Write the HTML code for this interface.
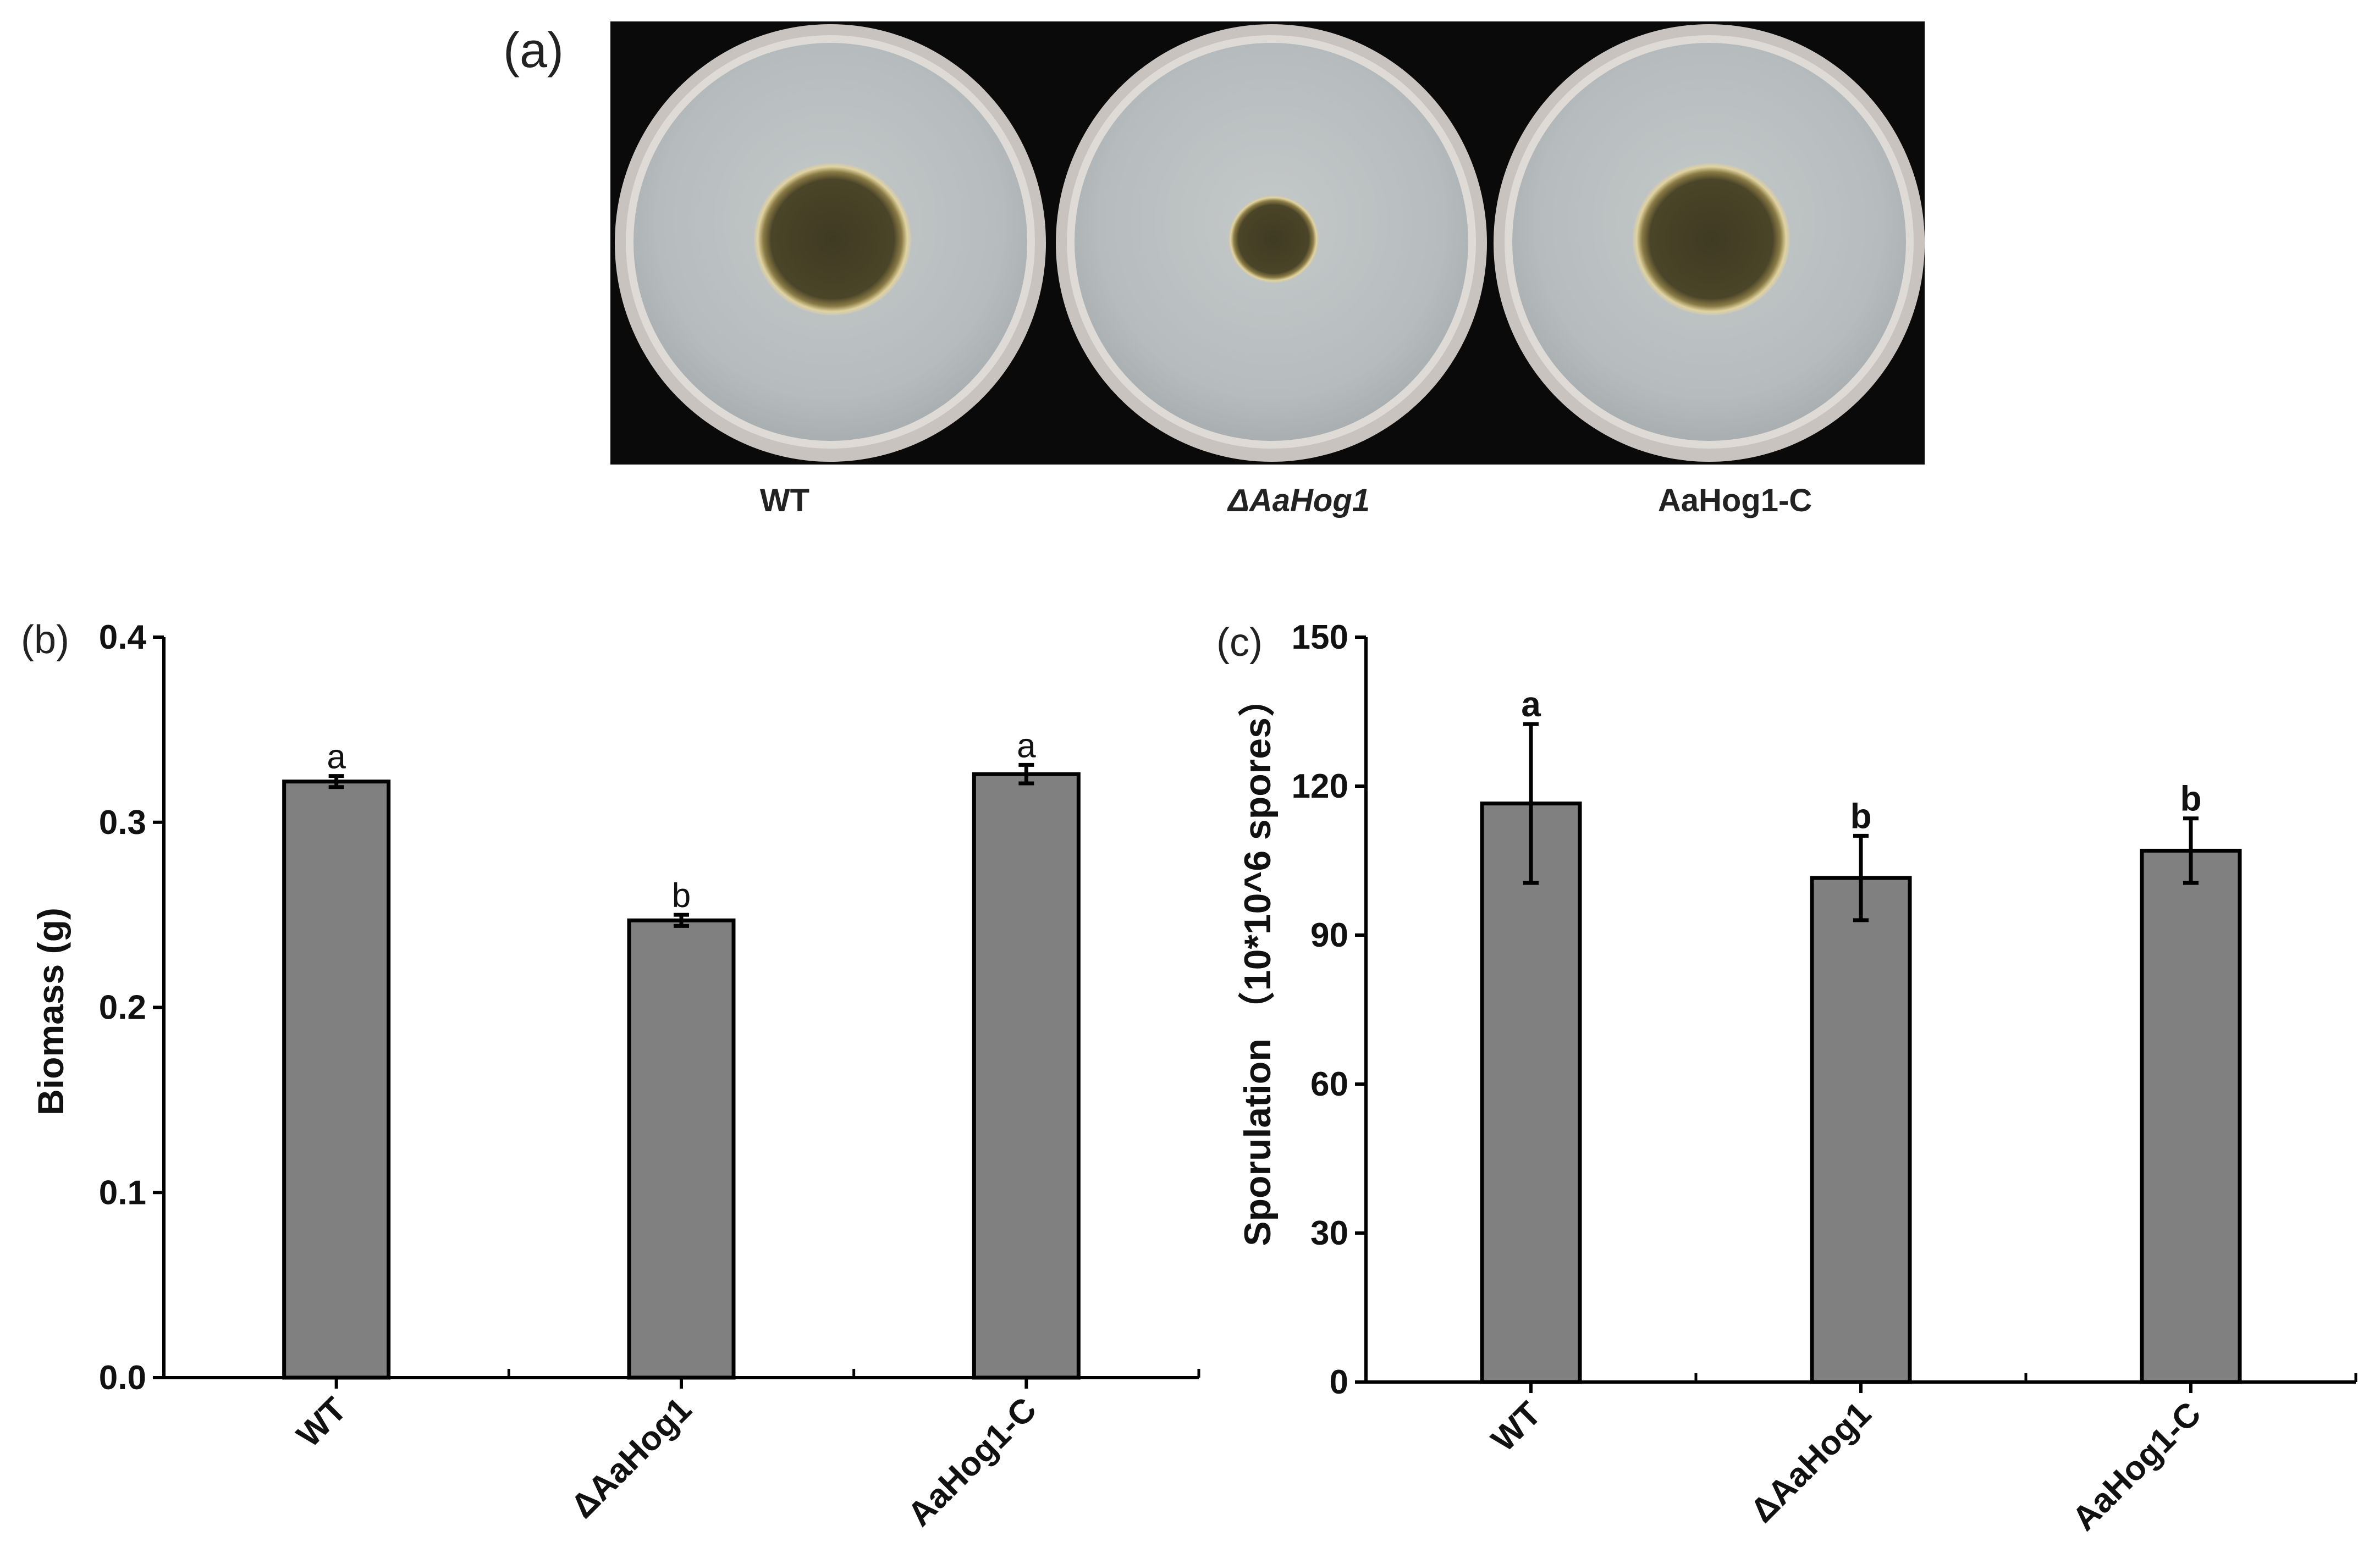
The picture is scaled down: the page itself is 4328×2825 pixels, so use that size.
<!DOCTYPE html>
<html><head><meta charset="utf-8">
<style>
html,body{margin:0;padding:0;background:#fff;}
svg{display:block;font-family:"Liberation Sans","Noto Sans CJK SC",sans-serif;}
</style></head>
<body>
<svg id="fig" width="4328" height="2825" viewBox="0 0 4328 2825" xmlns="http://www.w3.org/2000/svg">
<defs>
<radialGradient id="agar" cx="50%" cy="45%" r="55%">
<stop offset="0" stop-color="#c4c8c8"/><stop offset="0.8" stop-color="#b6bcbe"/><stop offset="1" stop-color="#a9afb1"/>
</radialGradient>
<radialGradient id="col" cx="50%" cy="50%" r="50%">
<stop offset="0" stop-color="#3f3a22"/><stop offset="0.78" stop-color="#4a4428"/><stop offset="0.88" stop-color="#8a7a45"/><stop offset="0.95" stop-color="#e0d3a0"/><stop offset="1" stop-color="#c8c6bb"/>
</radialGradient>
</defs>
<g>
<text x="915" y="122" font-size="90" fill="#222">(a)</text>
<rect x="1110" y="39" width="2390" height="806" fill="#0a0a0a"/>
<g id="plates"></g>
<text x="1427" y="930" font-size="58" font-weight="bold" text-anchor="middle" fill="#222">WT</text>
<text x="2362" y="930" font-size="58" font-weight="bold" font-style="italic" text-anchor="middle" fill="#222">ΔAaHog1</text>
<text x="3155" y="930" font-size="58" font-weight="bold" text-anchor="middle" fill="#222">AaHog1-C</text>
</g>
<g id="chartB"></g>
<g id="chartC"></g>
</svg>
<script>
const NS="http://www.w3.org/2000/svg";
const plateCenters=[1510,2312,3108];
const colonyRadii=[143,82,143];
function mk(tag,attrs,parent){const e=document.createElementNS(NS,tag);for(const k in attrs)e.setAttribute(k,attrs[k]);parent.appendChild(e);return e;}
const pg=document.getElementById('plates');
plateCenters.forEach((cx,i)=>{
  const g=mk('g',{},pg);
  
  
  mk('ellipse',{cx:cx,cy:442,rx:392,ry:398,fill:'#c9c3c0'},g);
  mk('ellipse',{cx:cx,cy:440,rx:372,ry:376,fill:'#dedad5'},g);
  mk('ellipse',{cx:cx,cy:440,rx:358,ry:362,fill:'url(#agar)'},g);
  mk('ellipse',{cx:cx+4,cy:435,rx:colonyRadii[i],ry:colonyRadii[i]*0.97,fill:'url(#col)'},g);
});

// Chart B data
const catsB=["WT","ΔAaHog1","AaHog1-C"];
const valsB=[0.322,0.247,0.326];
const errsB=[0.003,0.003,0.005];
const lettersB=["a","b","a"];
const ticksB=[0,0.1,0.2,0.3,0.4];
const tickLabelsB=["0.0","0.1","0.2","0.3","0.4"];
// Chart C data
const catsC=["WT","ΔAaHog1","AaHog1-C"];
const valsC=[116.5,101.5,107];
const errsC=[16,8.5,6.5];
const lettersC=["a","b","b"];
const ticksC=[0,30,60,90,120,150];
const tickLabelsC=["0","30","60","90","120","150"];

function drawChart(root,cfg){
  const {x0,x1,y0,y1,max,cats,vals,errs,letters,ticks,tickLabels,barW,letterBold,letterSize}=cfg;
  const ys=v=>y0-(v/max)*(y0-y1);
  const step=(x1-x0)/cats.length;
  const xs=i=>x0+step*(i+0.5);
  vals.forEach((v,i)=>{
    const b=mk('rect',{x:xs(i)-barW/2,y:ys(v),width:barW,height:y0-ys(v),fill:'#808080',stroke:'#000','stroke-width':7},root);
    
    
    const e=mk('path',{d:`M${xs(i)} ${ys(v+errs[i])}V${ys(v-errs[i])}M${xs(i)-14} ${ys(v+errs[i])}h28M${xs(i)-14} ${ys(v-errs[i])}h28`,stroke:'#000','stroke-width':7,fill:'none'},root);
    
    
    const t=mk('text',{x:xs(i),y:ys(v+errs[i])-14,'font-size':letterSize,'text-anchor':'middle','font-weight':letterBold?'bold':'normal',fill:'#111'},root);
    t.textContent=letters[i];
    
    
    const tk=mk('line',{x1:xs(i),x2:xs(i),y1:y0,y2:y0+20,stroke:'#000','stroke-width':6},root);
    
    
    const lb=mk('text',{transform:`translate(${xs(i)+22},${y0+62}) rotate(-45)`,'font-size':62,'font-weight':'bold','text-anchor':'end',fill:'#111'},root);
    lb.textContent=cats[i];
    
    
  });
  for(let i=1;i<=cats.length;i++){
    const m=mk('line',{x1:x0+step*i,x2:x0+step*i,y1:y0,y2:y0-16,stroke:'#000','stroke-width':5},root);
    
    
  }
  ticks.forEach((t,i)=>{
    const l=mk('line',{x1:x0,x2:x0-20,y1:ys(t),y2:ys(t),stroke:'#000','stroke-width':6},root);
    
    
    const tx=mk('text',{x:x0-32,y:ys(t)+21,'font-size':62,'font-weight':'bold','text-anchor':'end',fill:'#111'},root);
    tx.textContent=tickLabels[i];
    
    
  });
  const ax=mk('path',{d:`M${x0} ${y1}V${y0}H${x1}`,stroke:'#000','stroke-width':6,fill:'none'},root);
  
  
}
const cb=document.getElementById('chartB');
drawChart(cb,{x0:298,x1:2180,y0:2506,y1:1159,max:0.4,cats:catsB,vals:valsB,errs:errsB,letters:lettersB,ticks:ticksB,tickLabels:tickLabelsB,barW:190,letterBold:false,letterSize:62});
const cc=document.getElementById('chartC');
drawChart(cc,{x0:2484,x1:4284,y0:2514,y1:1159,max:150,cats:catsC,vals:valsC,errs:errsC,letters:lettersC,ticks:ticksC,tickLabels:tickLabelsC,barW:178,letterBold:true,letterSize:64});

let t=mk('text',{x:38,y:1188,'font-size':72,fill:'#222'},cb);t.textContent='(b)';


t=mk('text',{transform:'translate(115,1840) rotate(-90)','font-size':66,'font-weight':'bold','text-anchor':'middle',fill:'#111'},cb);t.textContent='Biomass (g)';


t=mk('text',{x:2212,y:1193,'font-size':72,fill:'#222'},cc);t.textContent='(c)';


t=mk('text',{transform:'translate(2310,1752) rotate(-90)','font-size':68,'font-weight':'bold','text-anchor':'middle',fill:'#111'},cc);t.textContent='Sporulation （10*10^6 spores）';


</script>
</body></html>
